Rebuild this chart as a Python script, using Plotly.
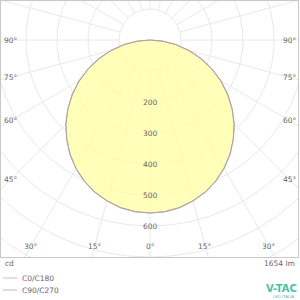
import numpy as np
import plotly.graph_objects as go

# ---- data ----
gamma_deg = [0, 5, 10, 15, 20, 25, 30, 35, 40, 45, 50, 55, 60, 65, 70, 75, 80, 85, 90]
c0_c180 = [558, 556, 549, 537, 522, 502, 478, 450, 418, 384, 346, 306, 264, 220, 175, 130, 84, 40, 0]
c90_c270 = [558, 556, 549, 537, 522, 502, 478, 450, 418, 384, 346, 306, 264, 220, 175, 130, 84, 40, 0]
radial_ticks = [200, 300, 400, 500, 600]
grid_radii = [100, 200, 300, 400, 500, 600, 700, 800, 900, 1000, 1100, 1200, 1300]
angle_labels = [90, 75, 60, 45, 30, 15, 0]
flux_text = "1654 lm"
unit_text = "cd"
legend_names = ["C0/C180", "C90/C270"]

# ---- layout geometry ----
W, H = 300, 300
L, R, T, B = 1, 2, 1, 43
PX0, PY0 = 150, 40          # origin pixel
S = 100 / 31.0              # cd per pixel
x_range = [-(PX0 - L) * S, (W - R - PX0) * S]
y_range = [-((H - B) - PY0) * S, (PY0 - T) * S]

TXT = dict(family="DejaVu Sans", size=7.5, color="#666666")
GRID = "#e8e8e8"

fig = go.Figure()

# grid circles
th = np.linspace(0, 2 * np.pi, 361)
for r in grid_radii:
    fig.add_trace(go.Scatter(x=r * np.cos(th), y=r * np.sin(th), mode="lines",
                             line=dict(color=GRID, width=1), hoverinfo="skip", showlegend=False))
# radial lines every 15 degrees from first circle outwards
for a in range(0, 360, 15):
    ar = np.radians(a)
    r0, r1 = grid_radii[0], 3000
    fig.add_trace(go.Scatter(x=[r0 * np.sin(ar), r1 * np.sin(ar)], y=[-r0 * np.cos(ar), -r1 * np.cos(ar)],
                             mode="lines", line=dict(color=GRID, width=1), hoverinfo="skip", showlegend=False))


def curve(vals):
    g = np.radians(np.array(gamma_deg, dtype=float))
    v = np.array(vals, dtype=float)
    x = np.concatenate([-(v * np.sin(g))[::-1], (v * np.sin(g))[1:]])
    y = np.concatenate([-(v * np.cos(g))[::-1], -(v * np.cos(g))[1:]])
    return x, y

x0, y0 = curve(c0_c180)
x9, y9 = curve(c90_c270)
fig.add_trace(go.Scatter(x=x0, y=y0, mode="lines", fill="toself", fillcolor="rgba(255,255,160,0.72)",
                         line=dict(width=0), hoverinfo="skip", showlegend=False))
fig.add_trace(go.Scatter(x=x9, y=y9, mode="lines", line=dict(color="#b8b8cc", width=1.2),
                         hoverinfo="skip", showlegend=False))
fig.add_trace(go.Scatter(x=x0, y=y0, mode="lines", line=dict(color="#b89c8c", width=0.9),
                         hoverinfo="skip", showlegend=False))

ann = []
# intensity labels
for r in radial_ticks:
    ann.append(dict(x=0, y=-r, xref="x", yref="y", text=str(r), showarrow=False, font=TXT,
                    xanchor="center", yanchor="middle"))
# angle labels at inner rectangle
side = (PX0 - L - 9.5) * S
bottom = ((H - B) - PY0 - 11) * S
for a in angle_labels:
    ar = np.radians(a)
    ts = []
    if np.sin(ar) > 1e-9:
        ts.append(side / np.sin(ar))
    if np.cos(ar) > 1e-9:
        ts.append(bottom / np.cos(ar))
    t = min(ts)
    for sgn in ([1, -1] if a else [1]):
        ann.append(dict(x=sgn * t * np.sin(ar), y=-t * np.cos(ar), xref="x", yref="y",
                        text=f"{a}°", showarrow=False, font=TXT, xanchor="center", yanchor="middle"))


def px(x):
    return (x - L) / (W - L - R)


def py(y):
    return ((H - B) - y) / (H - T - B)

ann.append(dict(x=px(3), y=py(263), xref="paper", yref="paper", text=unit_text, showarrow=False,
                font=TXT, xanchor="left", yanchor="middle"))
ann.append(dict(x=px(297), y=py(263), xref="paper", yref="paper", text=flux_text, showarrow=False,
                font=TXT, xanchor="right", yanchor="middle"))
shapes = []
for i, (name, col) in enumerate(zip(legend_names, ["#e0b8b8", "#b8b8d8"])):
    yy = 278 + 12 * i
    ann.append(dict(x=px(20), y=py(yy), xref="paper", yref="paper", text=name, showarrow=False,
                    font=TXT, xanchor="left", yanchor="middle"))
    shapes.append(dict(type="line", xref="paper", yref="paper", x0=px(3), x1=px(17), y0=py(yy), y1=py(yy),
                       line=dict(color=col, width=1)))
# logo
ann.append(dict(x=px(281), y=py(288), xref="paper", yref="paper", text="<b>V-TAC</b>", showarrow=False,
                font=dict(family="DejaVu Sans", size=10, color="#4cbf9f"), xanchor="center", yanchor="middle"))
ann.append(dict(x=px(296), y=py(296), xref="paper", yref="paper", text="LED ITALIA", showarrow=False,
                font=dict(family="Liberation Sans", size=4, color="#4cbf9f"), xanchor="right", yanchor="middle"))

fig.update_layout(
    width=W, height=H, margin=dict(l=L, r=R, t=T, b=B),
    paper_bgcolor="white", plot_bgcolor="white",
    xaxis=dict(range=x_range, showgrid=False, zeroline=False, showticklabels=False, ticks="",
               showline=True, mirror=True, linecolor="#c8c8c8", linewidth=1, fixedrange=True),
    yaxis=dict(range=y_range, showgrid=False, zeroline=False, showticklabels=False, ticks="",
               showline=True, mirror=True, linecolor="#c8c8c8", linewidth=1, fixedrange=True),
    annotations=ann, shapes=shapes, showlegend=False,
)
fig.write_html("out.html")
